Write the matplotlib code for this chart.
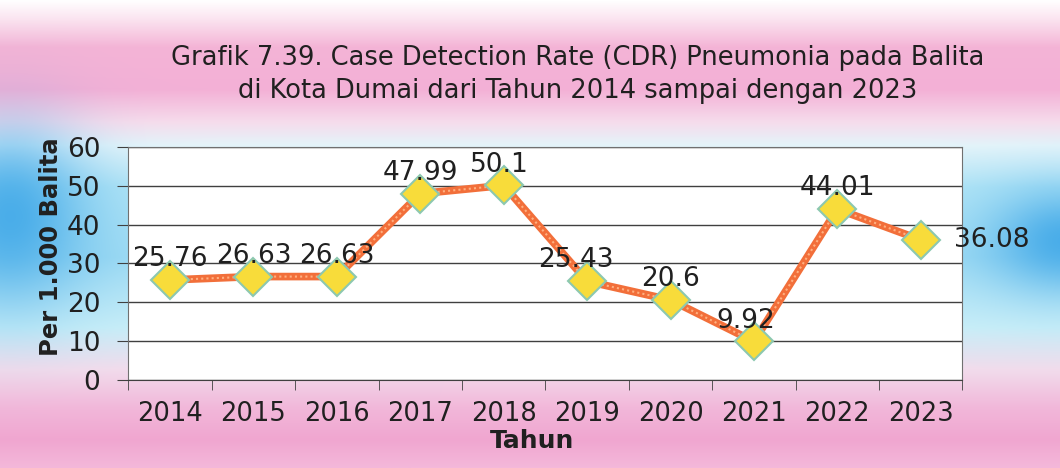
import numpy as np
import matplotlib
matplotlib.use("Agg")
import matplotlib.pyplot as plt
from matplotlib.colors import to_rgb

# data
tahun = ["2014", "2015", "2016", "2017", "2018", "2019", "2020", "2021", "2022", "2023"]
cdr = [25.76, 26.63, 26.63, 47.99, 50.1, 25.43, 20.6, 9.92, 44.01, 36.08]
label_txt = ["25.76", "26.63", "26.63", "47.99", "50.1", "25.43", "20.6", "9.92", "44.01", "36.08"]

judul = ("Grafik 7.39. Case Detection Rate (CDR) Pneumonia pada Balita\n"
         "di Kota Dumai dari Tahun 2014 sampai dengan 2023")

# label offsets (points)
offs = [(0, 10), (0, 10), (0, 10), (0, 10), (-3, 10), (-8, 10), (0, 10), (-6, 10), (0, 10), (24, 0)]

fig = plt.figure(figsize=(10.6, 4.68), dpi=100)

# background gradient
H, W = 468, 1060
stops = [(0.00, "#ffffff"), (0.04, "#fbe4f0"), (0.10, "#f4b4d6"), (0.19, "#f3b0d6"),
         (0.26, "#f6dcec"), (0.31, "#e4f4fa"), (0.40, "#b0e4f6"), (0.55, "#a0dcf4"),
         (0.70, "#c8eef8"), (0.79, "#f2dcec"), (0.87, "#f2b8da"), (0.94, "#f0a6d0"),
         (1.00, "#f4b8da")]
ys = np.linspace(0, 1, H)
pos = [s[0] for s in stops]
cols = np.array([to_rgb(s[1]) for s in stops])
col = np.stack([np.interp(ys, pos, cols[:, k]) for k in range(3)], axis=1)
img = np.repeat(col[:, None, :], W, axis=1)
xx, yy = np.meshgrid(np.arange(W), np.arange(H))
blue = np.array(to_rgb("#40a8e8"))
m1 = np.exp(-((xx - 10) / 75.0) ** 2 - ((yy - 215) / 85.0) ** 2)
m2 = np.exp(-((xx - 1065) / 75.0) ** 2 - ((yy - 240) / 50.0) ** 2)
m = np.clip(m1 + m2, 0, 1)[..., None] * 0.9
img = img * (1 - m) + blue * m
bg = fig.add_axes([0, 0, 1, 1])
bg.imshow(img, aspect="auto", extent=[0, 1, 0, 1])
bg.axis("off")

ax = fig.add_axes([0.121, 0.188, 0.787, 0.498])
ax.set_facecolor("white")
x = np.arange(len(tahun))
ax.plot(x, cdr, color="#f26f3a", lw=5.5, zorder=3, solid_capstyle="round")
ax.plot(x, cdr, color="#ffb080", lw=1.5, ls=(0, (1, 1.5)), zorder=3)
ax.plot(x, cdr, ls="none", marker="D", ms=19, mfc="#f8dc3a", mec="#8cc8b0", mew=1.5, zorder=4)

for i, (v, t) in enumerate(zip(cdr, label_txt)):
    dx, dy = offs[i]
    ax.annotate(t, (i, v), xytext=(dx, dy), textcoords="offset points",
                ha="left" if dx > 15 else "center", va="center" if dx > 15 else "baseline",
                fontsize=19, color="#202020", family="DejaVu Sans Condensed", zorder=5)

ax.set_xlim(-0.5, len(tahun) - 0.5)
ax.set_ylim(0, 60)
ax.set_yticks(range(0, 61, 10))
ax.yaxis.grid(True, color="#404040", lw=1)
ax.set_axisbelow(True)
ax.set_xticks(x)
ax.set_xticklabels(tahun)
ax.set_xticks(np.arange(-0.5, len(tahun)), minor=True)
ax.tick_params(axis="x", which="major", length=0, pad=15, labelsize=18.5, labelcolor="#202020")
ax.tick_params(axis="x", which="minor", length=7, color="#404040")
ax.tick_params(axis="y", length=8, color="#404040", labelsize=19, labelcolor="#202020", pad=12)
for lbl in ax.get_xticklabels() + ax.get_yticklabels():
    lbl.set_family("DejaVu Sans Condensed")
for s in ax.spines.values():
    s.set_color("#707070")
ax.spines["bottom"].set_color("#404040")

ax.set_ylabel("Per 1.000 Balita", fontsize=17.5, fontweight="bold", color="#202020")
ax.yaxis.set_label_coords(-0.078, 0.57)
fig.text(0.502, 0.058, "Tahun", ha="center", va="center", fontsize=18, fontweight="bold", color="#202020")
fig.text(0.545, 0.84, judul, ha="center", va="center", fontsize=18.5, color="#202020",
         family="DejaVu Sans Condensed", linespacing=1.35)

fig.savefig("out.png", dpi=100)
